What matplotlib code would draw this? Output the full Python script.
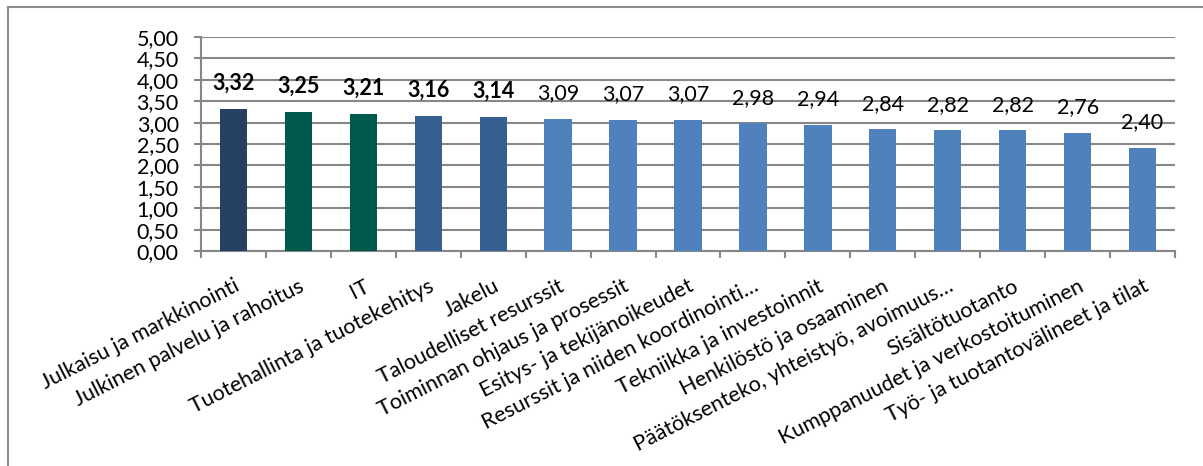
import matplotlib.pyplot as plt
from matplotlib.lines import Line2D

plt.rcParams['font.family'] = ['Lato', 'DejaVu Sans']

# Data
categories = ['Julkaisu ja markkinointi', 'Julkinen palvelu ja rahoitus', 'IT',
              'Tuotehallinta ja tuotekehitys', 'Jakelu', 'Taloudelliset resurssit',
              'Toiminnan ohjaus ja prosessit', 'Esitys- ja tekijänoikeudet',
              'Resurssit ja niiden koordinointi…', 'Tekniikka ja investoinnit',
              'Henkilöstö ja osaaminen', 'Päätöksenteko, yhteistyö, avoimuus…',
              'Sisältötuotanto', 'Kumppanuudet ja verkostoituminen',
              'Työ- ja tuotantovälineet ja tilat']
values = [3.32, 3.25, 3.21, 3.16, 3.14, 3.09, 3.07, 3.07, 2.98, 2.94, 2.84, 2.82, 2.82, 2.76, 2.40]
colors = ['#254061', '#005A4B', '#005A4B', '#376092', '#376092'] + ['#4F81BD'] * 10
bold_top = 5
yticks = [0, 0.5, 1, 1.5, 2, 2.5, 3, 3.5, 4, 4.5, 5]

fig = plt.figure(figsize=(12.03, 4.66), dpi=100)
ax = fig.add_axes([201 / 1203, 1 - 251 / 466, (1175 - 201) / 1203, (251 - 37) / 466])

x = range(len(values))
ax.bar(x, values, width=0.42, color=colors, zorder=3)

for i, v in enumerate(values):
    ax.annotate(f'{v:.2f}'.replace('.', ','), (i, v), xytext=(0, 18.5), textcoords='offset points',
                ha='center', va='center', fontsize=15.5,
                fontweight='bold' if i < bold_top else 'normal', zorder=4)

ax.set_xlim(-0.5, len(values) - 0.5)
ax.set_ylim(0, 5)
ax.set_yticks(yticks)
ax.set_yticklabels([f'{t:.2f}'.replace('.', ',') for t in yticks], fontsize=15.5)
ax.yaxis.grid(True, color='#878787', linewidth=1.5, zorder=0)
ax.set_axisbelow(True)

ax.set_xticks([i - 0.5 for i in range(len(values) + 1)], minor=False)
ax.set_xticklabels([])
ax.set_xticks(list(x), minor=True)
ax.set_xticklabels(categories, minor=True, rotation=27, ha='right',
                   rotation_mode='anchor', fontsize=15.5)
ax.tick_params(axis='x', which='minor', length=0, pad=18)
ax.tick_params(axis='x', which='major', length=5, width=1.5, color='#878787')
ax.tick_params(axis='y', length=5, width=1.5, color='#878787', pad=11)

for s in ['top', 'right']:
    ax.spines[s].set_visible(False)
for s in ['left', 'bottom']:
    ax.spines[s].set_color('#878787')
    ax.spines[s].set_linewidth(1.5)

# outer chart frame (top and left edges visible)
fig.add_artist(Line2D([8 / 1203, 1], [1 - 7 / 466] * 2, transform=fig.transFigure,
                      color='#8c8c8c', linewidth=1.5))
fig.add_artist(Line2D([8 / 1203] * 2, [0, 1 - 7 / 466], transform=fig.transFigure,
                      color='#8c8c8c', linewidth=1.5))

fig.savefig('out.png', dpi=100)
